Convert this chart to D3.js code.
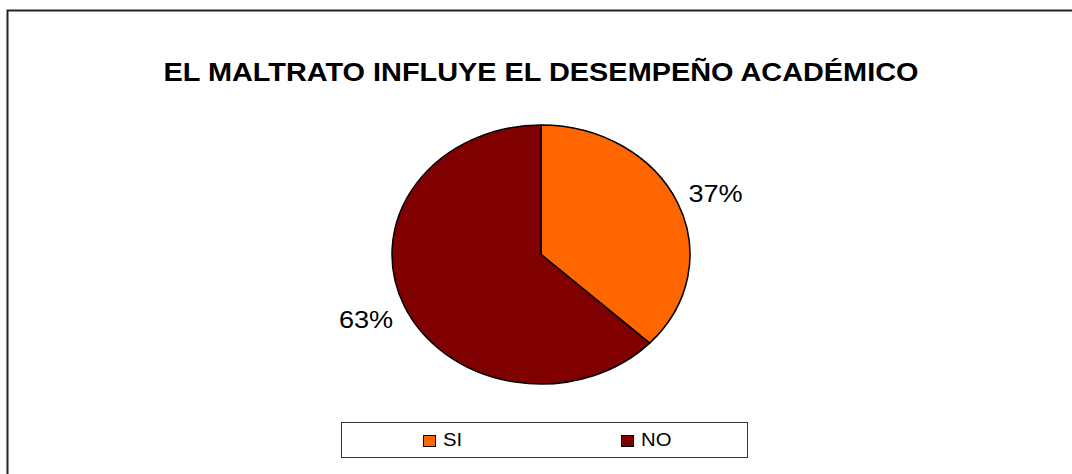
<!DOCTYPE html>
<html>
<head>
<meta charset="utf-8">
<script src="https://cdn.jsdelivr.net/npm/d3@7"></script>
<style>
  html, body { margin: 0; padding: 0; background: #fff; }
  svg { display: block; font-family: "Liberation Sans", Arial, sans-serif; }
</style>
</head>
<body>
<svg id="chart" width="1072" height="474"></svg>
<script>
// data
var categories = ["SI", "NO"];
var values = [37, 63];
var colors = ["#FF6600", "#800000"];
var title = "EL MALTRATO INFLUYE EL DESEMPEÑO ACADÉMICO";

var svg = d3.select("#chart");
// the original picture is stretched a bit sideways, so text gets widened too
var stretch = 1.13;

// outer frame (runs off the right and bottom edge)
svg.append("rect")
  .attr("x", 7.5).attr("y", 10.5)
  .attr("width", 1100).attr("height", 500)
  .attr("fill", "#fff").attr("stroke", "#222").attr("stroke-width", 2);

svg.append("text")
  .attr("x", 541).attr("y", 81)
  .attr("text-anchor", "middle")
  .attr("font-size", 25.5).attr("font-weight", "bold")
  .attr("textLength", 755).attr("lengthAdjust", "spacingAndGlyphs")
  .text(title);

// pie, drawn as a circle and flattened into an ellipse
var cx = 541, cy = 254.5, rx = 149, ry = 129.5;
var pie = d3.pie().sort(null).value(function(d){ return d; });
var arcs = pie(values);
var arc = d3.arc().innerRadius(0).outerRadius(rx);

var g = svg.append("g")
  .attr("transform", "translate(" + cx + "," + cy + ") scale(1," + (ry / rx) + ")");

g.selectAll("path").data(arcs).enter().append("path")
  .attr("d", arc)
  .attr("fill", function(d, i){ return colors[i]; })
  .attr("stroke", "#000")
  .attr("stroke-width", 1.5)
  .attr("vector-effect", "non-scaling-stroke");

// percent labels
var labelPos = [[715.5, 202], [366, 328]];
var pct = svg.selectAll("g.pct").data(arcs).enter().append("g")
  .attr("class", "pct")
  .attr("transform", function(d, i){
    return "translate(" + labelPos[i][0] + "," + labelPos[i][1] + ") scale(" + stretch + ",1)";
  });
pct.append("text")
  .attr("text-anchor", "middle")
  .attr("font-size", 24)
  .attr("fill", "#000")
  .text(function(d){ return d3.format(".0%")(d.value / d3.sum(values)); });

// legend
svg.append("rect")
  .attr("x", 341.5).attr("y", 422.5)
  .attr("width", 406).attr("height", 35)
  .attr("fill", "#fff").attr("stroke", "#333").attr("stroke-width", 1);

var legendX = [423, 621];
var lg = svg.selectAll("g.leg").data(categories).enter().append("g")
  .attr("class", "leg")
  .attr("transform", function(d, i){ return "translate(" + legendX[i] + ",435)"; });
lg.append("rect")
  .attr("x", 0.5).attr("y", 0.5).attr("width", 12).attr("height", 11)
  .attr("fill", function(d, i){ return colors[i]; })
  .attr("stroke", "#000").attr("stroke-width", 1);
lg.append("text")
  .attr("transform", "translate(20,10.5) scale(" + stretch + ",1)")
  .attr("font-size", 18)
  .text(function(d){ return d; });
</script>
</body>
</html>
